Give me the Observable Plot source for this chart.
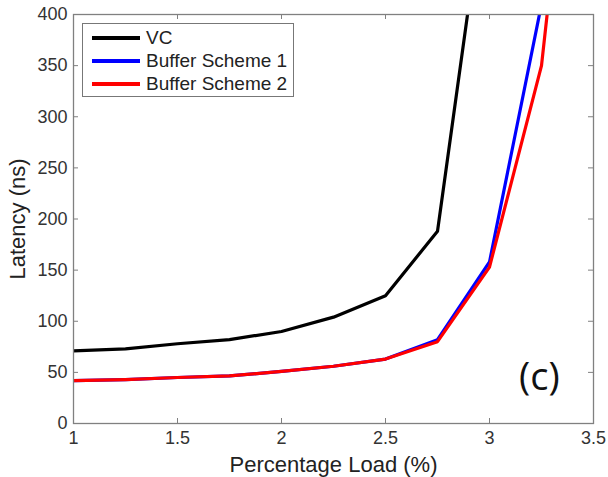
<!DOCTYPE html>
<html>
<head>
<meta charset="utf-8">
<script src="https://cdn.jsdelivr.net/npm/d3@7"></script>
<script src="https://cdn.jsdelivr.net/npm/@observablehq/plot@0.6"></script>
<style>
  html, body { margin: 0; padding: 0; background: #fff; }
  #wrap { position: relative; width: 608px; height: 477px; font-family: "Liberation Sans", Arial, sans-serif; }
  #legend { position: absolute; left: 82px; top: 23px; width: 212px; height: 74px; border: 1px solid #777; background: #fff; box-sizing: border-box; }
  .item { position: absolute; left: 0; height: 22px; font-size: 19px; color: #222; line-height: 22px; }
  .item .sw { position: absolute; left: 9px; top: 9px; width: 48px; height: 4px; }
  .item .lb { position: absolute; left: 63px; top: 0; white-space: nowrap; }
  #tag { position: absolute; left: 519px; top: 350px; font-family: "Open Sans", sans-serif; font-size: 38px; line-height: 50px; color: #111; }
</style>
</head>
<body>
<div id="wrap">
  <div id="chart"></div>
  <div id="legend"></div>
  <div id="tag">(c)</div>
</div>
<script>
const loads = [1, 1.25, 1.5, 1.75, 2, 2.25, 2.5, 2.75, 3, 3.25, 3.5];
const vc = [71, 73, 78, 82, 90, 104, 125, 188, 555, 1200, 2000];
const buffer1 = [42, 43, 45, 46.5, 51, 56, 63, 82, 158, 410, 900];
const buffer2 = [42, 43, 45, 46.5, 51, 56, 63, 80, 153, 350, 812];
const seriesNames = ["VC", "Buffer Scheme 1", "Buffer Scheme 2"];
const seriesColors = ["#000000", "#0000ff", "#ff0000"];
const xTicks = [1, 1.5, 2, 2.5, 3, 3.5];
const yTicks = [0, 50, 100, 150, 200, 250, 300, 350, 400];

const seriesValues = [vc, buffer1, buffer2];
const data = [];
seriesValues.forEach((vals, si) => {
  vals.forEach((v, i) => data.push({series: seriesNames[si], x: loads[i], y: v}));
});

const W = 608, H = 477;
const mL = 73, mR = 15, mT = 14, mB = 54;
const pw = W - mL - mR, ph = H - mT - mB;
const axisColor = "#808080";
const labelColor = "#333";

const chart = Plot.plot({
  width: W, height: H,
  marginLeft: mL, marginRight: mR, marginTop: mT, marginBottom: mB,
  style: {fontFamily: "Liberation Sans, Arial, sans-serif", fontSize: "18px", color: labelColor, background: "white", overflow: "visible"},
  x: {domain: [1, 3.5], ticks: xTicks},
  y: {domain: [0, 400], ticks: yTicks},
  marks: [
    Plot.lineY(data, {x: "x", y: "y", z: "series", stroke: "series", strokeWidth: 3.2, clip: true, strokeLinejoin: "round"}),
    Plot.frame({stroke: axisColor, strokeWidth: 1.3}),
    Plot.tickX(xTicks, {x: d => d, stroke: axisColor, insetTop: ph - 5}),
    Plot.tickX(xTicks, {x: d => d, stroke: axisColor, insetBottom: ph - 5}),
    Plot.tickY(yTicks, {y: d => d, stroke: axisColor, insetRight: pw - 5}),
    Plot.tickY(yTicks, {y: d => d, stroke: axisColor, insetLeft: pw - 5}),
    Plot.axisX(xTicks, {tickSize: 0, tickPadding: 8, fontSize: 18, fill: labelColor, label: "Percentage Load (%)", labelAnchor: "center", labelArrow: "none", labelOffset: 48, tickFormat: d => String(d)}),
    Plot.axisY(yTicks, {tickSize: 0, tickPadding: 6, fontSize: 18, fill: labelColor, label: "Latency (ns)", labelAnchor: "center", labelArrow: "none", labelOffset: 64, tickFormat: d => String(d)})
  ],
  color: {domain: seriesNames, range: seriesColors}
});
document.getElementById("chart").appendChild(chart);

// style axis titles
d3.select(chart).selectAll("g[aria-label='x-axis label'] text, g[aria-label='y-axis label'] text")
  .style("font-size", "22px").attr("fill", "#222");

const legend = document.getElementById("legend");
seriesNames.forEach((name, i) => {
  const item = document.createElement("div");
  item.className = "item";
  item.style.top = (3 + i * 23) + "px";
  item.innerHTML = `<div class="sw" style="background:${seriesColors[i]}"></div><div class="lb">${name}</div>`;
  legend.appendChild(item);
});
</script>
</body>
</html>
